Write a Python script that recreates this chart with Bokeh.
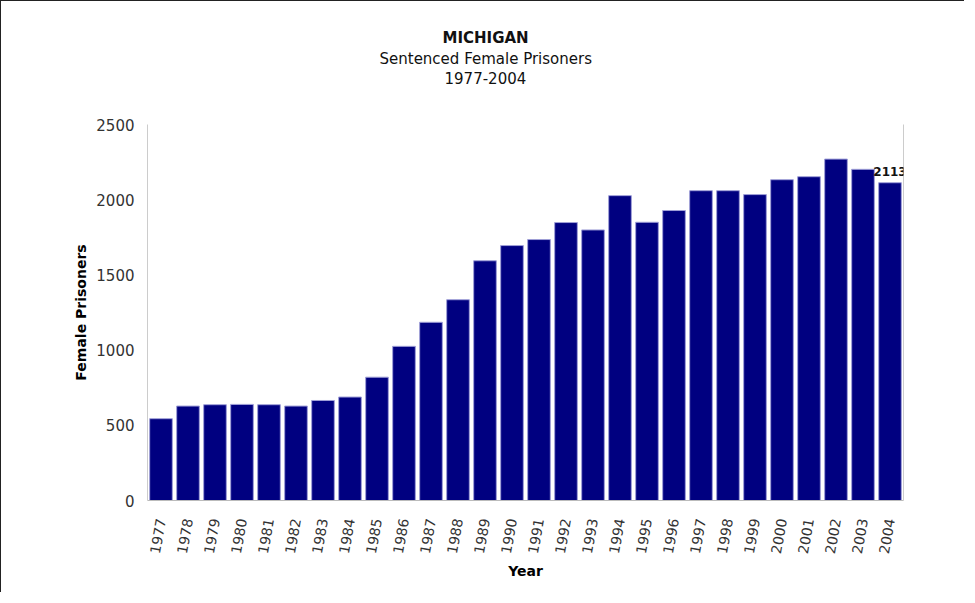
from bokeh.plotting import figure
from bokeh.models import (ColumnDataSource, Title, LabelSet, LinearAxis, FixedTicker,
                          FactorRange, Range1d)
from bokeh.embed import file_html
from bokeh.resources import INLINE
from bokeh.core.properties import value

years = ["1977", "1978", "1979", "1980", "1981", "1982", "1983", "1984", "1985",
         "1986", "1987", "1988", "1989", "1990", "1991", "1992", "1993", "1994",
         "1995", "1996", "1997", "1998", "1999", "2000", "2001", "2002", "2003", "2004"]
prisoners = [544, 628, 637, 639, 637, 628, 665, 688, 820,
             1025, 1185, 1335, 1594, 1695, 1735, 1848, 1799, 2027,
             1850, 1928, 2060, 2060, 2034, 2133, 2153, 2270, 2202, 2113]
y_ticks = [0, 500, 1000, 1500, 2000, 2500]
title_lines = ["MICHIGAN", "Sentenced Female Prisoners", "1977-2004"]
x_title = "Year"
y_title = "Female Prisoners"

FONT = "DejaVu Sans"

src = ColumnDataSource(dict(year=years, value=prisoners))
lab_src = ColumnDataSource(dict(x=[years[-1]], y=[prisoners[-1]], t=[str(prisoners[-1])]))

p = figure(x_range=FactorRange(*years, range_padding=0), y_range=Range1d(0, 2500),
           width=964, height=592, output_backend="svg", toolbar_location=None,
           min_border_left=146, min_border_right=62, min_border_top=0, min_border_bottom=93)
p.title = None
p.styles = {"border-left": "1px solid #222222", "border-top": "1px solid #222222"}
p.outline_line_color = None
p.xgrid.grid_line_color = None
p.ygrid.grid_line_color = None

p.vbar(x="year", top="value", width=0.84, source=src,
       fill_color="#000080", line_color="#a0a0d8", line_width=1)

p.add_layout(LabelSet(x="x", y="y", text="t", source=lab_src, text_align="center",
                      text_baseline="bottom", y_offset=6.5, text_font=value(FONT),
                      text_font_style="bold", text_font_size="12px", text_color="#111111"))

ya = p.yaxis[0]
ya.ticker = FixedTicker(ticks=y_ticks)
ya.axis_line_color = "#cccccc"
ya.major_tick_line_color = None
ya.minor_tick_line_color = None
ya.major_tick_out = 0
ya.major_tick_in = 0
ya.major_label_text_font = FONT
ya.major_label_text_font_size = "15px"
ya.major_label_text_color = "#333333"
ya.major_label_standoff = 13
ya.axis_label = y_title
ya.axis_label_text_font = FONT
ya.axis_label_text_font_style = "bold"
ya.axis_label_text_font_size = "14px"
ya.axis_label_text_color = "#000000"
ya.axis_label_standoff = 4

xa = p.xaxis[0]
xa.axis_line_color = "#bbbbbb"
xa.major_tick_line_color = None
xa.minor_tick_line_color = None
xa.major_tick_out = 0
xa.major_tick_in = 0
xa.major_label_orientation = 1.4
xa.major_label_text_font = FONT
xa.major_label_text_font_size = "14px"
xa.major_label_text_color = "#333333"
xa.major_label_standoff = 18
xa.axis_label = x_title
xa.axis_label_text_font = FONT
xa.axis_label_text_font_style = "bold"
xa.axis_label_text_font_size = "14px"
xa.axis_label_text_color = "#000000"
xa.axis_label_standoff = 5

ra = LinearAxis(ticker=FixedTicker(ticks=[]), axis_line_color="#cccccc",
                major_tick_line_color=None, minor_tick_line_color=None,
                major_tick_out=0, major_tick_in=0,
                major_label_text_font_size="0px")
p.add_layout(ra, "right")

# titles: nearest to the frame first
p.add_layout(Title(text=" ", text_font_size="1px", standoff=37), "above")
title_specs = [(title_lines[2], "normal", 297, 2), (title_lines[1], "normal", 232, 1),
               (title_lines[0], "bold", 295, 1)]
for txt, style, off, so in title_specs:
    p.add_layout(Title(text=txt, align="left", offset=off, standoff=so,
                       text_font=FONT, text_font_style=style, text_font_size="15px",
                       text_color="#111111"), "above")
p.add_layout(Title(text=" ", text_font_size="1px", standoff=22), "above")

open("out.html", "w").write(file_html(p, INLINE))
